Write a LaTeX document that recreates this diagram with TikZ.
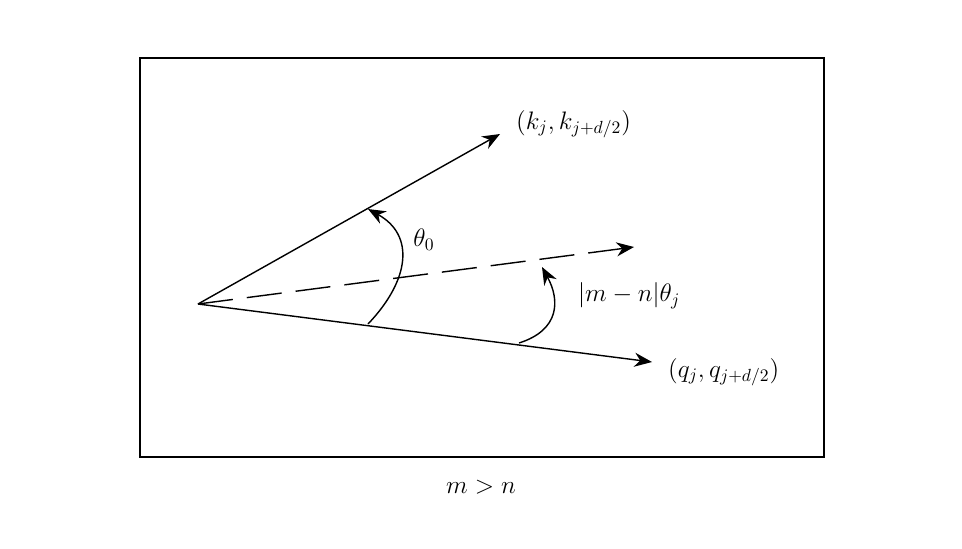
\documentclass[tikz,border=0pt]{standalone}
\usepackage{amsmath}
\usetikzlibrary{arrows.meta}
\begin{document}
\begin{tikzpicture}[x=0.02cm,y=-0.02cm,>={Stealth[length=10pt,width=8pt]},
  every node/.style={font=\Large}]
\useasboundingbox (0,0) rectangle (962,548);
\draw[thick] (140,58) rectangle (824,457);
% vectors
\coordinate (o) at (198,304);
\coordinate (k) at (500,134);
\coordinate (r) at (634,247);
\coordinate (q) at (652,362);
\draw[thick,->] (o) -- (k);
\draw[thick,->,dash pattern=on 20pt off 8pt] (o) -- (r);
\draw[thick,->] (o) -- (q);
% angles
\coordinate (a1) at (368,324);
\coordinate (b1) at (368,209);
\coordinate (a2) at (519,343);
\coordinate (b2) at (542,267);
\draw[thick,->] (a1) .. controls (410,280) and (415,235) .. (b1);
\draw[thick,->] (a2) .. controls (560,330) and (560,300) .. (b2);
% labels
\node[anchor=west] (kl) at (510,124) {$(k_j,k_{j+d/2})$};
\node (t0) at (424,240) {$\theta_0$};
\node[anchor=west] (tj) at (572,296) {$|m-n|\theta_j$};
\node[anchor=west] (ql) at (662,372) {$(q_j,q_{j+d/2})$};
\node (cap) at (481,487) {$m>n$};
\end{tikzpicture}
\end{document}
